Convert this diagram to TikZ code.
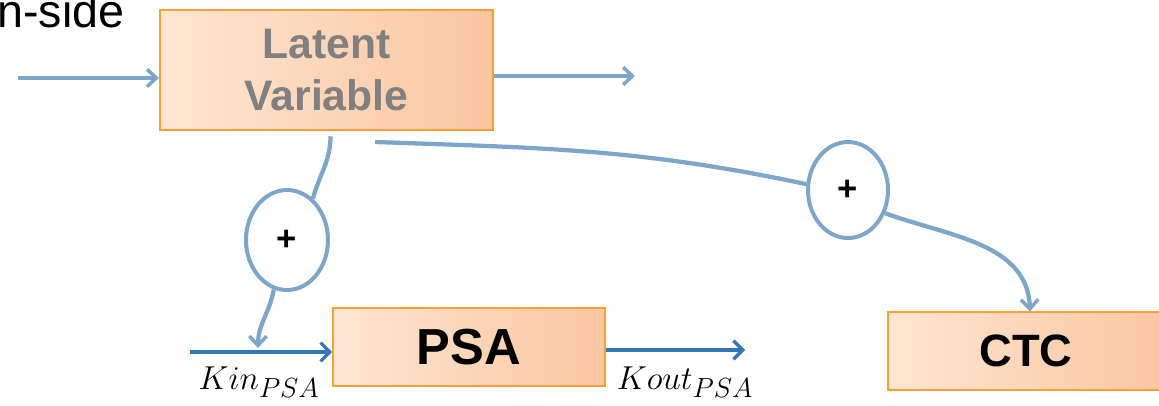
\documentclass[tikz,border=0pt]{standalone}
\usepackage{fontspec}
\usepackage{amsmath}
\setmainfont{Liberation Sans}
\usetikzlibrary{arrows.meta,shapes.geometric}
\definecolor{linkblue}{HTML}{7EA6C9}
\definecolor{flowblue}{HTML}{2F77B8}
\definecolor{boxline}{HTML}{F7A035}
\definecolor{boxlight}{HTML}{FEE6D2}
\definecolor{boxdark}{HTML}{F9C6A0}

\begin{document}
\begin{tikzpicture}[x=0.75pt, y=-0.75pt,
    block/.style = {draw=boxline, line width=1.4pt, left color=boxlight, right color=boxdark,
                    inner sep=0pt, align=center, font=\bfseries},
    sum/.style   = {ellipse, draw=linkblue, line width=3pt, fill=white, inner sep=0pt,
                    font=\fontsize{26}{26}\selectfont\bfseries},
    link/.style  = {draw=linkblue, line width=3.2pt, -{Straight Barb[length=7pt,width=13pt,line width=2.6pt]}},
    flow/.style  = {draw=flowblue, line width=2.6pt, -{Straight Barb[length=7pt,width=14pt,line width=2.4pt]}}]
  \useasboundingbox (0,0) rectangle (1159,406);

  \node[anchor=base east, font=\fontsize{35}{35}\selectfont] (side) at (129,28) {n-side};

  \node[block, minimum width=250pt, minimum height=90pt, text=gray,
        font=\fontsize{32}{39}\selectfont\bfseries] (lv) at (326.5,70) {Latent\\Variable};
  \node[block, minimum width=204pt, minimum height=58.5pt,
        font=\fontsize{38}{38}\selectfont\bfseries] (psa) at (469,347) {PSA};
  \node[block, minimum width=207pt, minimum height=58pt,
        font=\fontsize{34}{34}\selectfont\bfseries] (ctc) at (1026,351) {CTC};

  \node[sum, minimum width=61.5pt, minimum height=75pt] (sum1) at (287,240) {+};
  \node[sum, minimum width=60pt, minimum height=72pt] (sum2) at (848,190) {+};

  \coordinate (lvin) at (18,78);
  \coordinate (lvout) at (635,76);
  \coordinate (kin) at (190,352);
  \coordinate (kout) at (745,350);
  \coordinate (kinjoin) at (258,348);
  \coordinate (tap) at (375,142);

  \draw[link] (lvin) -- (lvin -| lv.west);
  \draw[link] (lvin -| lv.east) ++(0,-2) -- (lvout);

  \draw[link, -] ([xshift=3pt,yshift=-4pt]lv.south) to[out=-90, in=75] (sum1.58);
  \draw[link] (sum1.255) to[out=-100, in=90] (kinjoin);
  \draw[link, -] (tap) to[out=-2, in=168] (sum2.172);
  \draw[link] (sum2.-32) to[out=-20, in=92] ([xshift=3pt]ctc.north);

  \draw[flow] (kin) -- (kin -| psa.west);
  \draw[flow] (kout -| psa.east) -- (kout);

  \node[font=\fontsize{30}{30}\selectfont] (kinlabel) at (259,382) {$Kin_{PSA}$};
  \node[font=\fontsize{30}{30}\selectfont] (koutlabel) at (685,382) {$Kout_{PSA}$};
\end{tikzpicture}
\end{document}
